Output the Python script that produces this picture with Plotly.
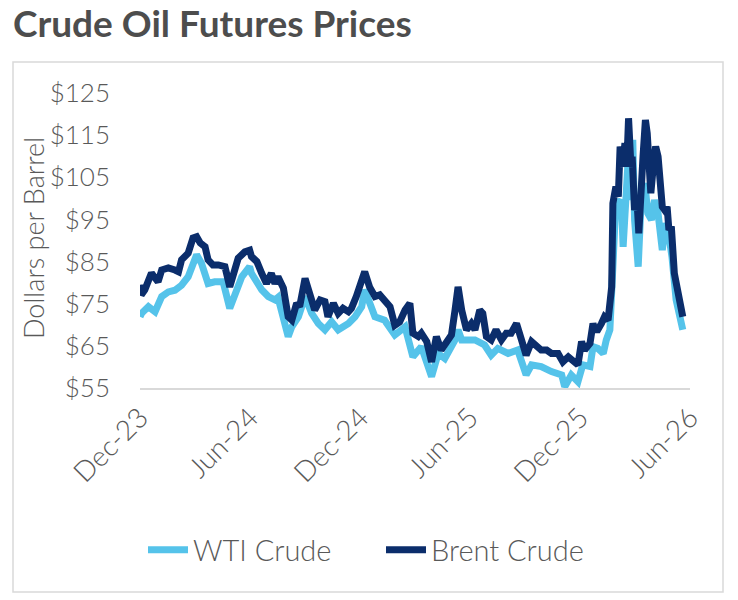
import pandas as pd
import plotly.graph_objects as go

# Data (days since 2023-12-01, $/barrel)
start = pd.Timestamp("2023-12-01")

brent_day = [0, 2, 8, 19, 25, 30, 36, 47, 58, 64, 69, 80, 88, 94, 100, 108, 113, 121, 130, 141,
             149, 155, 163, 174, 182, 185, 194, 202, 210, 218, 224, 229, 238, 246, 252, 260, 265,
             274, 282, 290, 299, 307, 312, 321, 329, 337, 346, 351, 359, 365, 373, 381, 390, 398,
             406, 415, 423, 431, 440, 448, 453, 462, 467, 476, 484, 492, 500, 509, 517, 523, 528,
             534, 542, 550, 556, 564, 569, 575, 583, 591, 600, 608, 616, 625, 633, 641, 650, 658,
             666, 675, 683, 694, 702, 711, 719, 727, 733, 738, 747, 752, 755, 760, 766, 771, 777,
             783, 785, 790, 794, 797, 801, 805, 808, 811, 815, 817, 821, 825, 828, 832, 835, 839,
             842, 845, 848, 852, 856, 860, 863, 867, 871, 875, 878, 882, 887, 891, 896, 901]
brent = [79.5, 77.1, 78.3, 82.3, 81.1, 80.2, 83.0, 83.5, 83.0, 82.6, 85.4, 87.0, 90.6, 90.9, 89.4,
         88.5, 85.4, 84.2, 84.2, 83.8, 79.0, 81.4, 85.8, 87.3, 87.7, 86.2, 85.0, 82.2, 79.8, 82.2,
         79.8, 81.4, 78.7, 71.9, 71.1, 75.1, 74.3, 81.0, 77.4, 73.5, 75.9, 75.5, 71.9, 75.1, 72.7,
         73.9, 73.1, 73.9, 76.7, 79.0, 82.6, 79.0, 76.7, 77.1, 75.9, 74.3, 69.9, 70.7, 73.5, 75.1,
         68.0, 67.2, 68.0, 66.0, 61.2, 67.2, 64.0, 65.6, 67.6, 73.5, 79.0, 73.5, 68.8, 70.3, 68.8,
         73.5, 72.7, 67.2, 66.4, 68.8, 66.4, 68.0, 68.0, 70.3, 66.4, 62.8, 66.0, 65.2, 64.0, 64.0,
         63.2, 63.2, 61.2, 62.4, 61.6, 60.5, 66.0, 64.0, 65.6, 70.3, 68.8, 68.8, 70.3, 71.9, 71.1,
         79.0, 98.8, 102.8, 100.4, 112.3, 107.5, 113.1, 107.5, 119.0, 107.5, 109.9, 97.2, 99.6,
         91.7, 105.1, 109.9, 118.6, 115.4, 108.3, 101.2, 107.5, 112.3, 109.9, 102.0, 98.0, 97.2,
         98.0, 92.5, 93.3, 82.2, 79.0, 75.1, 71.9]

wti_day = [0, 3, 14, 25, 36, 47, 58, 69, 80, 88, 94, 102, 113, 124, 138, 149, 157, 169, 182, 185,
           202, 213, 224, 229, 246, 252, 263, 274, 285, 296, 307, 318, 329, 346, 357, 368, 373, 390,
           406, 423, 440, 453, 467, 484, 495, 506, 523, 528, 534, 545, 556, 572, 583, 594, 611, 627,
           641, 650, 666, 683, 700, 705, 716, 727, 735, 747, 752, 760, 769, 774, 780, 785, 790, 794,
           799, 802, 806, 810, 815, 818, 821, 827, 832, 838, 843, 849, 854, 860, 867, 872, 878, 883,
           890, 896, 901]
wti = [71.9, 72.8, 74.3, 73.1, 76.7, 77.8, 78.2, 79.4, 81.4, 84.6, 86.6, 84.6, 79.8, 80.2, 80.2,
       73.9, 77.4, 81.4, 83.8, 82.2, 78.3, 76.7, 75.9, 76.5, 67.2, 69.5, 71.9, 76.7, 72.7, 70.3,
       68.8, 70.7, 68.8, 70.3, 71.9, 74.3, 78.3, 71.9, 71.1, 67.6, 69.5, 62.4, 64.8, 57.7, 63.2,
       62.0, 66.4, 68.8, 66.4, 66.4, 66.4, 65.2, 62.8, 64.4, 63.2, 64.0, 58.1, 60.5, 60.1, 58.9,
       58.1, 55.3, 58.1, 56.5, 60.5, 60.1, 64.8, 64.4, 63.2, 66.4, 68.8, 83.8, 99.6, 98.8, 99.6,
       88.5, 101.2, 108.3, 99.6, 113.9, 94.9, 83.8, 99.6, 103.6, 96.4, 94.9, 99.6, 96.4, 87.7,
       94.1, 91.0, 86.2, 75.9, 71.1, 68.8]

tick_dates = ["2023-12-01", "2024-06-01", "2024-12-01", "2025-06-01", "2025-12-01", "2026-06-01"]
tick_labels = ["Dec-23", "Jun-24", "Dec-24", "Jun-25", "Dec-25", "Jun-26"]
y_ticks = [55, 65, 75, 85, 95, 105, 115, 125]

brent_dates = start + pd.to_timedelta(brent_day, unit="D")
wti_dates = start + pd.to_timedelta(wti_day, unit="D")

FONT = "Lato"
GREY = "#595959"

fig = go.Figure()
fig.add_trace(go.Scatter(x=wti_dates, y=wti, name="WTI Crude", mode="lines",
                         line=dict(color="#55C3EA", width=7)))
fig.add_trace(go.Scatter(x=brent_dates, y=brent, name="Brent Crude", mode="lines",
                         line=dict(color="#0B2D6B", width=7)))

W, H = 738, 600
L, R, T, B = 140, 48, 93, 212
pw, ph = W - L - R, H - T - B

def px_x(x):
    return (x - L) / pw

def px_y(y):
    return (H - B - y) / ph

fig.update_layout(
    width=W, height=H,
    margin=dict(l=L, r=R, t=T, b=B),
    paper_bgcolor="white", plot_bgcolor="white",
    font=dict(family=FONT, color=GREY),
    showlegend=True,
    legend=dict(orientation="h", x=px_x(143), xanchor="left", y=px_y(550), yanchor="middle",
                font=dict(size=29, color=GREY, weight=300), itemwidth=40,
                entrywidth=183, entrywidthmode="pixels"),
    xaxis=dict(type="date", range=[tick_dates[0], tick_dates[-1]],
               tickvals=tick_dates, ticktext=tick_labels, tickangle=-45,
               tickfont=dict(size=28, color=GREY, weight=300), showgrid=False, zeroline=False,
               showline=True, linecolor="#d9d9d9", linewidth=2, ticks=""),
    yaxis=dict(range=[55, 125], tickvals=y_ticks, ticktext=[f"${v}" for v in y_ticks],
               tickfont=dict(size=26, color=GREY, weight=300), showgrid=False, zeroline=False,
               showline=False, ticks="", ticklabelstandoff=29),
    shapes=[dict(type="rect", xref="paper", yref="paper",
                 x0=px_x(13), x1=px_x(723), y0=px_y(592), y1=px_y(62),
                 line=dict(color="#d9d9d9", width=1.5), fillcolor="rgba(0,0,0,0)", layer="below")],
    annotations=[
        dict(text="<b>Crude Oil Futures Prices</b>", xref="paper", yref="paper",
             x=px_x(11), y=px_y(23), xanchor="left", yanchor="middle", showarrow=False,
             font=dict(size=37, color="#4d4d4d", family=FONT)),
        dict(text="Dollars per Barrel", xref="paper", yref="paper",
             x=px_x(33), y=px_y(238), xanchor="center", yanchor="middle", showarrow=False,
             textangle=-90, font=dict(size=27, color=GREY, family=FONT, weight=300)),
    ],
)

fig.write_html("out.html")
